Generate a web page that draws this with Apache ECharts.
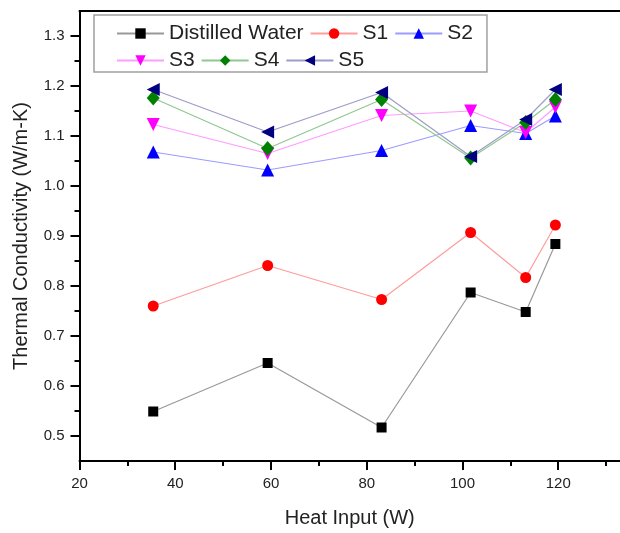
<!DOCTYPE html>
<html>
<head>
<meta charset="utf-8">
<script src="https://cdn.jsdelivr.net/npm/echarts@6/dist/echarts.min.js"></script>
<style>
  html, body { margin: 0; padding: 0; background: #fff; }
  #main { width: 620px; height: 533px; }
</style>
</head>
<body>
<div id="main"></div>
<script>
// 数据
var heatInput = [35.4, 59.3, 83.1, 101.7, 113.2, 119.4];
var distilledWater = [0.549, 0.646, 0.517, 0.787, 0.748, 0.884];
var s1 = [0.760, 0.841, 0.773, 0.907, 0.817, 0.922];
var s2 = [1.068, 1.032, 1.071, 1.121, 1.105, 1.140];
var s3 = [1.123, 1.065, 1.141, 1.150, 1.107, 1.158];
var s4 = [1.176, 1.075, 1.173, 1.056, 1.127, 1.173];
var s5 = [1.193, 1.108, 1.187, 1.059, 1.133, 1.193];

var xTicks = [20, 40, 60, 80, 100, 120];
var xMinorTicks = [30, 50, 70, 90, 110, 130];
var yTicks = [0.5, 0.6, 0.7, 0.8, 0.9, 1.0, 1.1, 1.2, 1.3];
var yMinorTicks = [0.55, 0.65, 0.75, 0.85, 0.95, 1.05, 1.15, 1.25];

function pairs(ys) {
    return heatInput.map(function (x, i) { return [x, ys[i]]; });
}

var font = 'Liberation Sans, Arial, sans-serif';
var xMin = 20, xMax = 132.9, yMin = 0.45, yMax = 1.35;

var myChart = echarts.init(document.getElementById('main'));

function mkSeries(name, ys, symbol, size, rotate, color, lineColor) {
    return {
        name: name,
        type: 'line',
        data: pairs(ys),
        symbol: symbol,
        symbolSize: size,
        symbolRotate: rotate,
        showAllSymbol: true,
        itemStyle: { color: color },
        lineStyle: { color: lineColor, width: 1.2 },
        emphasis: { disabled: true },
        z: 3
    };
}

myChart.setOption({
    animation: false,
    textStyle: { fontFamily: font },
    grid: { left: 79.5, right: 0, top: 11, bottom: 71 },
    legend: {
        left: 94, top: 15,
        width: 372,
        padding: [8, 14, 1, 22],
        borderColor: '#a0a0a0',
        borderWidth: 1.5,
        itemWidth: 47,
        itemHeight: 13,
        itemGap: 6,
        textStyle: { fontSize: 21, color: '#222', fontFamily: font },
        data: ['Distilled Water', 'S1', 'S2', 'S3', 'S4', 'S5']
    },
    xAxis: [{
        type: 'value', min: xMin, max: xMax,
        name: 'Heat Input (W)', nameLocation: 'middle', nameGap: 47,
        nameTextStyle: { fontSize: 20, color: '#222' },
        axisLine: { lineStyle: { color: '#000', width: 2 } },
        axisTick: { customValues: xTicks, length: 9, lineStyle: { color: '#000', width: 2 } },
        axisLabel: { customValues: xTicks, fontSize: 15, color: '#222', margin: 15 },
        splitLine: { show: false }
    }, {
        type: 'value', min: xMin, max: xMax, position: 'bottom',
        axisLine: { show: false },
        axisTick: { customValues: xMinorTicks, length: 5, lineStyle: { color: '#000', width: 2 } },
        axisLabel: { show: false },
        splitLine: { show: false }
    }, {
        type: 'value', min: xMin, max: xMax, position: 'top',
        axisLine: { lineStyle: { color: '#000', width: 2 } },
        axisTick: { show: false },
        axisLabel: { show: false },
        splitLine: { show: false }
    }],
    yAxis: [{
        type: 'value', min: yMin, max: yMax,
        name: 'Thermal Conductivity (W/m-K)', nameLocation: 'middle', nameGap: 48,
        nameTextStyle: { fontSize: 20, color: '#222' },
        axisLine: { lineStyle: { color: '#000', width: 2 } },
        axisTick: { customValues: yTicks, length: 9, lineStyle: { color: '#000', width: 2 } },
        axisLabel: {
            customValues: yTicks, fontSize: 15, color: '#222', margin: 15,
            formatter: function (v) { return v.toFixed(1); }
        },
        splitLine: { show: false }
    }, {
        type: 'value', min: yMin, max: yMax, position: 'left',
        axisLine: { show: false },
        axisTick: { customValues: yMinorTicks, length: 5, lineStyle: { color: '#000', width: 2 } },
        axisLabel: { show: false },
        splitLine: { show: false }
    }],
    series: [
        mkSeries('Distilled Water', distilledWater, 'rect', 10, 0, '#000', '#999'),
        mkSeries('S1', s1, 'circle', 11, 0, '#ff0000', '#ff9c9c'),
        mkSeries('S2', s2, 'triangle', 13, 0, '#0000ff', '#9c9cff'),
        mkSeries('S3', s3, 'triangle', 13, 180, '#ff00ff', '#ff9cff'),
        mkSeries('S4', s4, 'diamond', [13, 15], 0, '#008000', '#90c890'),
        mkSeries('S5', s5, 'triangle', 13, 90, '#000080', '#9c9cc8')
    ]
});
</script>
</body>
</html>
